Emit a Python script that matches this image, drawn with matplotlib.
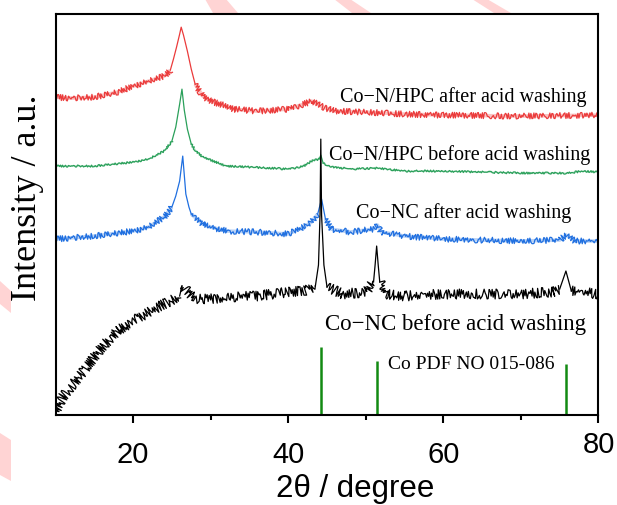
import numpy as np
import matplotlib.pyplot as plt
from matplotlib.patches import Polygon

plt.rcParams['font.family'] = ['Liberation Sans', 'DejaVu Sans']

# stacked XRD patterns, intensity in a.u. (offsets included)
tt_red = [10, 12, 15, 18, 20, 22, 24, 24.8, 25.2, 25.6, 26.0, 26.2, 26.5, 27.0,
          27.5, 28, 29, 30, 32, 33, 36, 40, 42, 43, 44.5, 46, 50, 55, 60, 70, 80]
i_red = [318, 317, 318, 323, 329, 334, 339, 345, 356, 368, 381, 388, 380, 364,
         346, 331, 319, 314, 309, 306, 304, 306, 311, 314, 308, 304, 303, 301, 300, 299, 300]

tt_grn = [10, 15, 20, 22, 24, 25, 25.5, 26.0, 26.3, 26.6, 27.0, 27.5, 28.2, 29, 32,
          35, 40, 42, 43, 44.0, 44.2, 44.5, 45, 48, 51.5, 55, 60, 70, 76, 78, 80]
i_grn = [249, 249, 253, 256, 264, 274, 288, 311, 326, 305, 286, 271, 263, 258, 249,
         248, 246, 249, 254, 256, 260, 252, 249, 246, 247, 244, 244, 242, 242, 244, 243]

tt_blu = [10, 15, 20, 22, 24, 25, 25.5, 26.0, 26.4, 26.8, 27.2, 27.5, 29, 30, 32, 36,
          40, 42, 43, 43.8, 44.3, 44.8, 45.5, 48, 51, 51.5, 52, 55, 60, 70, 75, 75.8, 77, 80]
i_blu = [176, 179, 184, 188, 198, 208, 219, 234, 259, 221, 208, 201, 191, 188, 184, 183,
         181, 188, 193, 201, 216, 196, 186, 183, 186, 190, 183, 179, 176, 174, 175, 180, 174, 174]

tt_blk = [10, 11, 12, 14, 16, 18, 20, 22, 24, 26, 26.3, 28, 30, 32, 36, 40, 42, 43.5,
          43.9, 44.1, 44.2, 44.3, 44.6, 45, 47, 50, 51, 51.2, 51.4, 51.6, 51.8, 52.5,
          55, 60, 65, 70, 74, 75, 75.8, 76.5, 80]
i_blk = [4, 19, 28, 48, 68, 84, 94, 103, 111, 119, 129, 116, 116, 118, 119, 123, 124, 129,
         150, 200, 276, 200, 150, 128, 121, 123, 133, 150, 169, 150, 133, 121,
         119, 121, 121, 121, 123, 126, 144, 124, 121]

# Co reference card
tt_co = [44.2, 51.5, 75.85]
i_co = [68, 54, 51]

labels = ["Co\u2212N/HPC after acid washing", "Co\u2212N/HPC before acid washing",
          "Co\u2212NC after acid washing", "Co\u2212NC before acid washing"]


def runs(tt, inten, mask):
    """segments where mask is True, joined into one NaN-broken polyline"""
    xs, ys = [], []
    for k in range(len(tt) - 1):
        if not mask[k]:
            continue
        if not xs or xs[-1] != tt[k]:
            if xs:
                xs.append(np.nan)
                ys.append(np.nan)
            xs.append(tt[k])
            ys.append(inten[k])
        xs.append(tt[k + 1])
        ys.append(inten[k + 1])
    return xs, ys


def noisy_line(ax, tt, inten, color, sketch, band, px_per_deg=7.75):
    # steep peak flanks drawn plain, the rest with a sketch wiggle for counting noise
    tt = np.asarray(tt, float)
    inten = np.asarray(inten, float)
    steep = np.abs(np.diff(inten) / np.diff(tt)) / px_per_deg > 2.5
    ax.plot(*runs(tt, inten, steep), color=color, lw=0.9)
    flat = runs(tt, inten, ~steep)
    if band:
        ax.plot(*flat, color=color, lw=band, alpha=0.3, solid_capstyle='butt')
    ln, = ax.plot(*flat, color=color, lw=0.9)
    ln.set_sketch_params(*sketch)


fig = plt.figure(figsize=(6.17, 5.06), dpi=100)
ax = fig.add_axes([0.090, 0.178, 0.880, 0.792])

# pale stripes along the page edges
W, H = 617, 506
stripes = [[(205, 0), (226, 0), (238, 14), (213, 14)],
           [(334, 0), (350, 0), (371, 14), (352, 14)],
           [(472, 0), (487, 0), (511, 14), (494, 14)],
           [(0, 282), (11, 292), (11, 314), (0, 305)],
           [(0, 434), (11, 441), (11, 482), (0, 476)]]
for s in stripes:
    fig.add_artist(Polygon([(x / W, 1 - y / H) for x, y in s], closed=True,
                           transform=fig.transFigure, fc='#ffd4d4', ec='none', zorder=0))

series = [(tt_red, i_red, '#eb3b3b', (3.0, 1.6, 1.6), 2.6),
          (tt_grn, i_grn, '#2aa05a', (1.0, 1.6, 1.6), 1.0),
          (tt_blu, i_blu, '#1f6fe0', (3.0, 1.6, 1.6), 2.6),
          (tt_blk, i_blk, 'k', (5.0, 1.2, 2.2), 0)]
for tt, inten, c, sk, band in series:
    noisy_line(ax, tt, inten, c, sk, band)

ax.vlines(tt_co, 0, i_co, color='#138a13', lw=1.8)

ax.text(78.45, 319, labels[0], ha='right', va='center', family='Liberation Serif', fontsize=14.5)
ax.text(79.0, 261, labels[1], ha='right', va='center', family='Liberation Serif', fontsize=14.5)
ax.text(76.5, 203, labels[2], ha='right', va='center', family='Liberation Serif', fontsize=14.5)
ax.text(78.45, 91, labels[3], ha='right', va='center', family='Liberation Serif', fontsize=16.5)
ax.text(52.9, 51, "Co PDF NO 015-086", ha='left', va='center', family='Liberation Serif', fontsize=14)

ax.set_xlim(10, 80)
ax.set_ylim(0, 401)
ax.set_xticks([20, 40, 60, 80], ['20', '40', '60', ''])
ax.set_xticks([30, 50, 70], minor=True)
ax.set_yticks([])
ax.tick_params(axis='x', which='major', direction='out', length=6, width=1.5,
               labelsize=21, pad=12)
ax.tick_params(axis='x', which='minor', direction='out', length=3.5, width=1.5)
ax.annotate('80', xy=(80, 0), xycoords=('data', 'axes fraction'),
            xytext=(0, -11), textcoords='offset points', ha='center', va='top', fontsize=21)
for sp in ax.spines.values():
    sp.set_linewidth(1.5)

ax.set_xlabel("2\u03b8 / degree", fontsize=22.5)
ax.xaxis.set_label_coords(0.552, -0.145)
ax.set_ylabel("Intensity / a.u.", family='Liberation Serif', fontsize=26)
ax.yaxis.set_label_coords(-0.052, 0.544)
ax.yaxis.label.set_va('center')

fig.savefig('out.png', dpi=100)
